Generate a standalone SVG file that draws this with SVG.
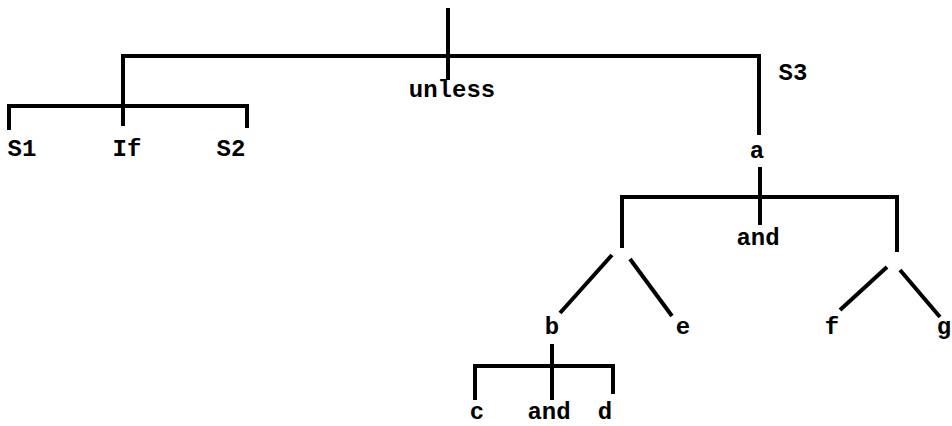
<svg xmlns="http://www.w3.org/2000/svg" width="952" height="426" viewBox="0 0 952 426">
<style>
.e{stroke:#000;stroke-width:4;fill:none;stroke-linecap:butt;stroke-linejoin:miter}
.t{font-family:"Liberation Mono","DejaVu Sans Mono",monospace;font-weight:bold;font-size:24px;fill:#000;text-anchor:middle}
</style>
<rect width="952" height="426" fill="#fff"/>
<g id="connectors">
<path class="e" d="M448 8V80"/>
<path class="e" d="M123 126V56H759V135"/>
<path class="e" d="M9 130V106H247V128"/>
<path class="e" d="M760 167V225"/>
<path class="e" d="M622 248V197H897V252"/>
<path class="e" d="M612 255L560 313"/>
<path class="e" d="M630 259L672 316"/>
<path class="e" d="M887 267L840 310"/>
<path class="e" d="M900 270L940 317"/>
<path class="e" d="M552 344V400"/>
<path class="e" d="M475 400V366H613V394"/>
</g>
<g id="n-S1"><text class="t" x="22" y="156">S1</text></g>
<g id="n-If"><text class="t" x="127" y="156">If</text></g>
<g id="n-S2"><text class="t" x="231" y="156">S2</text></g>
<g id="n-unless"><text class="t" x="452" y="97">unless</text></g>
<g id="n-S3"><text class="t" x="793" y="80">S3</text></g>
<g id="n-a"><text class="t" x="757" y="158">a</text></g>
<g id="n-and1"><text class="t" x="758" y="245">and</text></g>
<g id="n-b"><text class="t" x="552" y="334">b</text></g>
<g id="n-e"><text class="t" x="683" y="334">e</text></g>
<g id="n-f"><text class="t" x="832" y="334">f</text></g>
<g id="n-g"><text class="t" x="944" y="334">g</text></g>
<g id="n-c"><text class="t" x="477" y="419">c</text></g>
<g id="n-and2"><text class="t" x="549" y="419">and</text></g>
<g id="n-d"><text class="t" x="605" y="419">d</text></g>
</svg>
